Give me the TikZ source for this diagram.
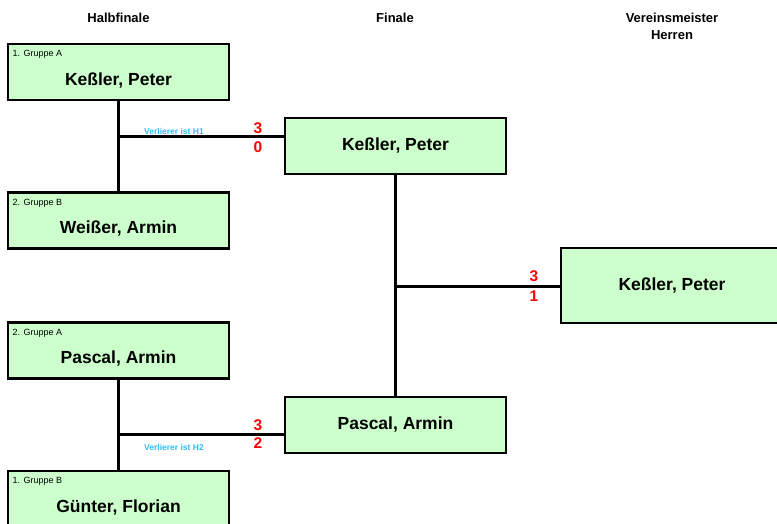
\documentclass[tikz,border=0pt]{standalone}
\usepackage{fontspec}
\setmainfont{Liberation Sans}
\definecolor{boxgreen}{HTML}{CCFFCC}
\definecolor{losercyan}{HTML}{33BBF5}
\definecolor{scorered}{HTML}{FF0000}
\begin{document}
\begin{tikzpicture}[x=1pt,y=-1pt,
  playerbox/.style={draw=black,line width=2.5pt,fill=boxgreen,minimum width=221pt,minimum height=56pt,inner sep=0pt},
  bigbox/.style={draw=black,line width=2.5pt,fill=boxgreen,minimum width=222pt,minimum height=75pt,inner sep=0pt},
  pname/.style={font=\fontsize{17.5}{20}\selectfont\bfseries,inner sep=0pt},
  glabel/.style={font=\fontsize{9}{10}\selectfont,inner sep=0pt,anchor=west},
  header/.style={font=\fontsize{13}{16}\selectfont\bfseries,inner sep=0pt},
  loser/.style={font=\fontsize{8.5}{10}\selectfont\bfseries,text=losercyan,inner sep=0pt},
  score/.style={font=\fontsize{15.5}{18}\selectfont\bfseries,text=scorered,inner sep=0pt},
  conn/.style={line width=3pt,black}]
\useasboundingbox (0,0) rectangle (777,524);
% headers
\node[header] (h1) at (118.5,17.5) {Halbfinale};
\node[header] (h2) at (395,17.5) {Finale};
\node[header] (h3) at (672,17.5) {Vereinsmeister};
\node[header] (h4) at (672,35.5) {Herren};
% junctions
\coordinate (j1) at (118,137);
\coordinate (j2) at (118,434);
\coordinate (j3) at (395.5,286);
% semifinal boxes
\node[playerbox] (a1) at (118.5,72) {};
\node[playerbox] (b2) at (118.5,220.5) {};
\node[playerbox] (a2) at (118.5,350.5) {};
\node[playerbox] (b1) at (118.5,499) {};
% final boxes
\node[playerbox] (f1) at (395.5,146) {};
\node[playerbox] (f2) at (395.5,425) {};
% winner
\node[bigbox] (w) at (672,285.5) {};
% lines
\draw[conn] (a1.south -| j1) -- (b2.north -| j1);
\draw[conn] (j1) -- (j1 -| f1.west);
\draw[conn] (a2.south -| j2) -- (b1.north -| j2);
\draw[conn] (j2) -- (j2 -| f2.west);
\draw[conn] (f1.south -| j3) -- (f2.north -| j3);
\draw[conn] (j3) -- (j3 -| w.west);
% texts in boxes
\node[glabel] (la1) at (12.5,54.5) {1. Gruppe A};
\node[pname] (na1) at (118.5,80.5) {Keßler, Peter};
\node[glabel] (lb2) at (12.5,203) {2. Gruppe B};
\node[pname] (nb2) at (118.5,229) {Weißer, Armin};
\node[glabel] (la2) at (12.5,333) {2. Gruppe A};
\node[pname] (na2) at (118.5,359) {Pascal, Armin};
\node[glabel] (lb1) at (12.5,481.5) {1. Gruppe B};
\node[pname] (nb1) at (118.5,507.5) {Günter, Florian};
\node[pname] (nf1) at (395.5,146) {Keßler, Peter};
\node[pname] (nf2) at (395.5,425) {Pascal, Armin};
\node[pname] (nw) at (672,286) {Keßler, Peter};
% loser notes
\node[loser] (v1) at (174,131.5) {Verlierer ist H1};
\node[loser] (v2) at (174,447.5) {Verlierer ist H2};
% scores
\node[score] (s1a) at (258,128.5) {3};
\node[score] (s1b) at (258,147.5) {0};
\node[score] (s2a) at (258,425.5) {3};
\node[score] (s2b) at (258,443.5) {2};
\node[score] (s3a) at (534,276.5) {3};
\node[score] (s3b) at (534,296.5) {1};
\end{tikzpicture}
\end{document}
